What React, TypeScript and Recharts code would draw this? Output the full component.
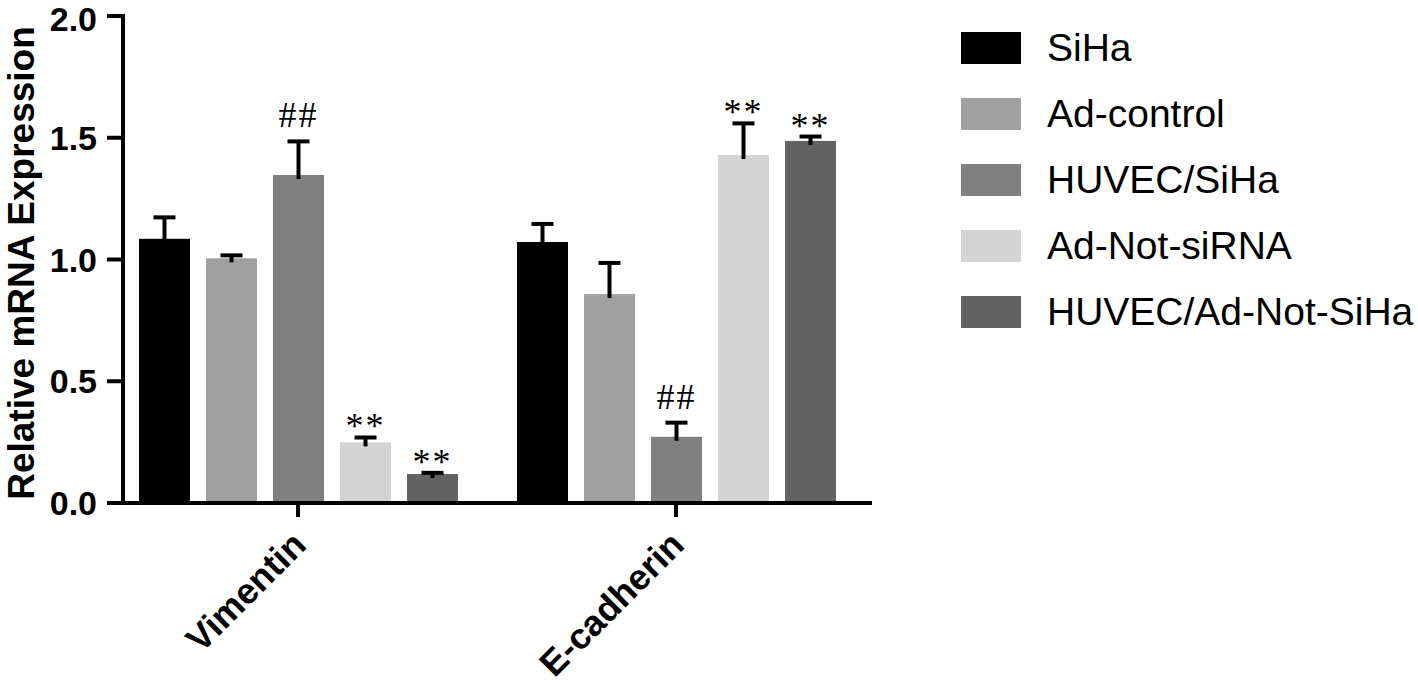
import { BarChart, Bar, XAxis, YAxis, Legend, Label } from 'recharts';

const categories = ['Vimentin', 'E-cadherin'];
const groups = ['SiHa', 'Ad-control', 'HUVEC/SiHa', 'Ad-Not-siRNA', 'HUVEC/Ad-Not-SiHa'];
const colors = ['#000000', '#a0a0a0', '#808080', '#d4d4d4', '#636363'];

// mean per category (Vimentin, E-cadherin)
const sihaMean = [1.085, 1.072];
const adControlMean = [1.005, 0.858];
const huvecSihaMean = [1.347, 0.272];
const adNotMean = [0.249, 1.429];
const huvecAdNotMean = [0.119, 1.487];

// upper error (SD)
const sihaErr = [0.088, 0.074];
const adControlErr = [0.012, 0.128];
const huvecSihaErr = [0.138, 0.058];
const adNotErr = [0.02, 0.13];
const huvecAdNotErr = [0.005, 0.018];

// significance marks
const sihaMark = ['', ''];
const adControlMark = ['', ''];
const huvecSihaMark = ['##', '##'];
const adNotMark = ['**', '**'];
const huvecAdNotMark = ['**', '**'];

const yTicks = [0, 0.5, 1.0, 1.5, 2.0];

const means = [sihaMean, adControlMean, huvecSihaMean, adNotMean, huvecAdNotMean];
const errs = [sihaErr, adControlErr, huvecSihaErr, adNotErr, huvecAdNotErr];
const marks = [sihaMark, adControlMark, huvecSihaMark, adNotMark, huvecAdNotMark];

const data = categories.map((name, i) => {
  const row: Record<string, any> = { name };
  groups.forEach((_, g) => {
    row[`g${g}`] = means[g][i];
    row[`g${g}err`] = errs[g][i];
    row[`g${g}mark`] = marks[g][i];
  });
  return row;
});

const sans = '"Liberation Sans", Arial, sans-serif';
const serif = '"Liberation Serif", "Times New Roman", serif';

// bar + one-sided error bar + significance mark
const makeShape = (key: string) => (props: any) => {
  const { x, y, width, height, fill, payload } = props;
  const v = payload[key];
  const e = payload[`${key}err`];
  const m = payload[`${key}mark`];
  const k = v ? height / v : 0;
  const top = y - e * k;
  const cx = x + width / 2;
  const markY = m === '##' ? top - 14 : top + 1;
  return (
    <g>
      <rect x={x} y={y} width={width} height={height} fill={fill} />
      <line x1={cx} x2={cx} y1={y + 4} y2={top} stroke="#000" strokeWidth={4} />
      <line x1={cx - 11} x2={cx + 11} y1={top} y2={top} stroke="#000" strokeWidth={4} />
      {m && (
        <text x={cx} y={markY} textAnchor="middle" fontFamily={serif} fontSize={36} fill="#000" letterSpacing={2}>
          {m}
        </text>
      )}
    </g>
  );
};

const XTick = ({ x, y, payload }: any) => {
  const px = x + 10;
  const py = y + 28;
  return (
    <text
      x={px}
      y={py}
      transform={`rotate(-45, ${px}, ${py})`}
      textAnchor="end"
      fontFamily={sans}
      fontWeight="bold"
      fontSize={36}
      fill="#000"
    >
      {payload.value}
    </text>
  );
};

const renderLegend = () => (
  <div style={{ fontFamily: sans, fontSize: 39, color: '#000' }}>
    {groups.map((g, i) => (
      <div key={g} style={{ display: 'flex', alignItems: 'center', height: 66 }}>
        <div style={{ width: 60, height: 32, background: colors[i], marginRight: 26, flexShrink: 0 }} />
        <span style={{ whiteSpace: 'nowrap' }}>{g}</span>
      </div>
    ))}
  </div>
);

export default function App() {
  return (
    <div style={{ position: 'absolute', left: 0, top: 0, background: '#fff' }}>
      <BarChart
        width={1418}
        height={685}
        data={data}
        margin={{ top: 16, right: 548, bottom: 152, left: 0 }}
        barSize={51}
        barGap={16}
      >
        <XAxis
          dataKey="name"
          height={30}
          padding={{ left: -14, right: 5 }}
          axisLine={{ stroke: '#000', strokeWidth: 4, strokeLinecap: 'square' }}
          tickLine={{ stroke: '#000', strokeWidth: 4 }}
          tickSize={14}
          tick={<XTick />}
          interval={0}
        />
        <YAxis
          width={123}
          domain={[0, 2]}
          ticks={yTicks}
          tickFormatter={(v: number) => v.toFixed(1)}
          axisLine={{ stroke: '#000', strokeWidth: 4, strokeLinecap: 'square' }}
          tickLine={{ stroke: '#000', strokeWidth: 4 }}
          tickSize={16}
          tickMargin={10}
          tick={{ fill: '#000', fontFamily: sans, fontWeight: 'bold', fontSize: 34 }}
        >
          <Label
            content={() => (
              <text
                x={34}
                y={263}
                transform="rotate(-90, 34, 263)"
                textAnchor="middle"
                fontFamily={sans}
                fontWeight="bold"
                fontSize={37}
                fill="#000"
              >
                Relative mRNA Expression
              </text>
            )}
          />
        </YAxis>
        <Legend
          layout="vertical"
          align="center"
          verticalAlign="middle"
          wrapperStyle={{ left: 961, top: 15, width: 457 }}
          content={renderLegend}
        />
        {groups.map((g, i) => (
          <Bar
            key={g}
            dataKey={`g${i}`}
            name={g}
            fill={colors[i]}
            isAnimationActive={false}
            shape={makeShape(`g${i}`)}
          />
        ))}
      </BarChart>
    </div>
  );
}
